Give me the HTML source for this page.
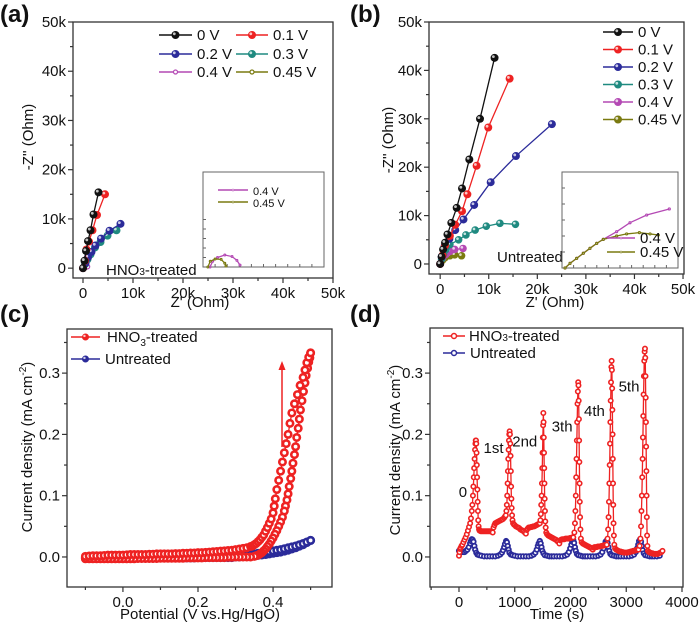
<!DOCTYPE html>
<html><head><meta charset="utf-8"><style>
html,body{margin:0;padding:0;background:#fff;}
svg{display:block;font-family:"Liberation Sans",sans-serif;}
</style></head><body>
<svg id="chart" width="700" height="623" viewBox="0 0 700 623" xmlns="http://www.w3.org/2000/svg"></svg>
<script>
// ---- Panel (a) data (kOhm) ----
const aSeriesNames = ['0 V','0.1 V','0.2 V','0.3 V','0.4 V','0.45 V'];
const aColors = ['#111111','#ee2222','#2b2b9a','#1f8a80','#b449b4','#7a7a10'];
const a0X = [0,0.3,0.6,1.0,1.5,2.1,3.1];
const a0Y = [0,1.5,3.5,5.5,7.7,10.9,15.4];
const a1X = [0,0.4,0.7,1.2,1.9,2.8,4.4];
const a1Y = [0,1.5,3.8,5.4,7.7,10.8,15.0];
const a2X = [0,0.5,1.0,1.7,2.5,3.6,5.3,7.5];
const a2Y = [0,1.0,2.2,3.3,4.6,6.0,7.6,9.0];
const a3X = [0,0.4,0.9,1.5,2.4,3.5,4.9,6.7];
const a3Y = [0,0.8,1.8,2.8,4.2,5.3,6.6,7.7];
const a4X = [0,0.3,0.6,0.9];
const a4Y = [0,0.4,0.5,0.3];
const a5X = [0,0.2,0.4,0.6];
const a5Y = [0,0.3,0.35,0.2];
const aInsetPX = [0.58,0.8,1.2,1.8,2.4,2.8,3.06];
const aInsetPY = [0,0.3,0.5,0.63,0.55,0.35,0.1];
const aInsetOX = [0.4,0.6,1.0,1.5,1.8,1.9];
const aInsetOY = [0,0.3,0.42,0.4,0.2,0.05];
// ---- Panel (b) data (kOhm) ----
const b0X = [0,0.3,0.6,1.0,1.5,2.3,3.4,4.5,6.0,8.2,11.2];
const b0Y = [0,1.5,3,4.4,6.1,8.5,11.6,15.6,21.6,30.0,42.6];
const b1X = [0,0.5,1.0,2.0,3.1,4.5,5.6,7.5,9.9,14.3];
const b1Y = [0,1.8,3.8,5.8,8.1,10.9,14.4,20.3,28.2,38.3];
const b2X = [0,0.3,0.9,1.9,3.1,4.8,7.0,10.4,15.6,23.0];
const b2Y = [0,1.5,3.6,5.2,7.0,9.2,12.2,16.9,22.3,28.9];
const b3X = [0,0.3,0.7,1.2,2.0,3.8,5.3,7.2,9.5,12.3,15.5];
const b3Y = [0,1,2,3,4,5.0,6.0,7.0,7.8,8.4,8.2];
const b4X = [0,0.5,1.2,2,3,4.7];
const b4Y = [0,1.2,2,2.6,3,3.2];
const b5X = [0,0.5,1,2,3,4.4];
const b5Y = [0,0.8,1.3,1.7,1.9,1.7];
const bInsetPX = [0.26,0.69,1.26,1.84,2.41,2.99,3.56,4.71,5.86,7.30,9.25];
const bInsetPY = [0,0.29,0.6,0.92,1.23,1.54,1.79,2.27,2.83,3.31,3.69];
const bInsetOX = [0.26,0.69,1.26,1.84,2.41,2.99,3.56,4.71,5.57,6.67,7.59,8.3];
const bInsetOY = [0,0.29,0.6,0.92,1.23,1.54,1.79,2.0,2.13,2.21,2.13,2.06];
// ---- Panel (c) data ----
const cRedFwdX = [-0.1,-0.09,-0.08,-0.07,-0.06,-0.05,-0.04,-0.03,-0.02,-0.01,0,0.01,0.02,0.03,0.04,0.05,0.06,0.07,0.08,0.09,0.1,0.11,0.12,0.13,0.14,0.15,0.16,0.17,0.18,0.19,0.2,0.21,0.22,0.23,0.24,0.25,0.26,0.27,0.28,0.29,0.3,0.31,0.32,0.33,0.34,
 0.345,0.35,0.355,0.36,0.365,0.37,0.375,0.38,0.385,0.39,0.395,0.40,0.403,0.406,0.41,0.415,0.42,0.425,0.43,0.435,0.44,0.445,0.45,0.457,0.465,0.472,0.48,0.485,0.49,0.495,0.50];
const cRedFwdY = [0.001,0.0015,0.002,0.002,0.002,0.0025,0.003,0.003,0.003,0.003,0.003,0.0035,0.004,0.004,0.004,0.004,0.004,0.0045,0.0045,0.005,0.005,0.005,0.005,0.005,0.0055,0.0055,0.006,0.006,0.0065,0.0065,0.007,0.007,0.0075,0.008,0.0085,0.009,0.0095,0.01,0.0105,0.011,0.012,0.013,0.014,0.015,0.017,
 0.018,0.02,0.022,0.025,0.028,0.032,0.036,0.042,0.048,0.055,0.062,0.072,0.083,0.095,0.11,0.125,0.14,0.155,0.17,0.185,0.2,0.218,0.235,0.25,0.265,0.28,0.293,0.305,0.317,0.326,0.333];
const cRedRevX = [0.50,0.498,0.495,0.492,0.488,0.485,0.481,0.477,0.473,0.47,0.467,0.463,0.46,0.457,0.453,0.45,0.447,0.443,0.44,0.437,0.433,0.43,0.425,0.42,0.415,0.41,0.405,0.40,0.395,0.39,0.385,0.38,0.375,0.37,0.365,0.36,0.355,0.35,
 0.34,0.33,0.32,0.31,0.3,0.29,0.28,0.27,0.26,0.25,0.24,0.23,0.22,0.21,0.2,0.19,0.18,0.17,0.16,0.15,0.14,0.13,0.12,0.11,0.1,0.09,0.08,0.07,0.06,0.05,0.04,0.03,0.02,0.01,0,-0.01,-0.02,-0.03,-0.04,-0.05,-0.06,-0.07,-0.08,-0.09,-0.1];
const cRedRevY = [0.333,0.325,0.318,0.308,0.296,0.284,0.27,0.255,0.24,0.225,0.21,0.195,0.18,0.167,0.153,0.14,0.128,0.115,0.103,0.093,0.083,0.075,0.065,0.057,0.05,0.043,0.037,0.031,0.026,0.021,0.017,0.013,0.01,0.007,0.005,0.003,0.002,0.001,
 0,0,0,0,0,-0.0005,-0.0005,-0.001,-0.001,-0.001,-0.001,-0.001,-0.001,-0.0015,-0.0015,-0.0015,-0.0015,-0.0015,-0.002,-0.002,-0.002,-0.002,-0.002,-0.002,-0.002,-0.0025,-0.0025,-0.0025,-0.0025,-0.0025,-0.0025,-0.003,-0.003,-0.003,-0.003,-0.003,-0.003,-0.003,-0.003,-0.003,-0.003,-0.003,-0.003,-0.003,-0.003];
const cBlueFwdX = [-0.1,-0.09,-0.08,-0.07,-0.06,-0.05,-0.04,-0.03,-0.02,-0.01,0,0.01,0.02,0.03,0.04,0.05,0.06,0.07,0.08,0.09,0.1,0.11,0.12,0.13,0.14,0.15,0.16,0.17,0.18,0.19,0.2,0.21,0.22,0.23,0.24,0.25,0.26,0.27,0.28,0.29,0.3,0.31,0.32,0.33,0.34,0.35,0.36,0.37,0.38,0.39,0.4,0.41,0.42,0.43,0.44,0.45,0.46,0.47,0.48,0.49,0.5];
const cBlueFwdY = [-0.001,-0.001,-0.0005,-0.0005,0,0,0,0,0,0,0,0,0,0.0005,0.0005,0.0005,0.0005,0.0005,0.0005,0.001,0.001,0.001,0.001,0.001,0.001,0.001,0.001,0.001,0.001,0.001,0.001,0.001,0.001,0.001,0.001,0.001,
 0.001,0.0012,0.0015,0.0018,0.002,0.0025,0.003,0.0035,0.004,0.005,0.006,0.007,0.008,0.009,0.01,0.011,0.012,0.0135,0.015,0.0165,0.018,0.02,0.022,0.0245,0.027];
const cBlueRevX = [0.5,0.49,0.48,0.47,0.46,0.45,0.44,0.43,0.42,0.41,0.4,0.39,0.38,0.37,0.36,0.35,0.34,0.33,0.32,0.31,0.3,0.29,0.28,0.27,0.26,0.25,0.24,0.23,0.22,0.21,0.2,0.19,0.18,0.17,0.16,0.15,0.14,0.13,0.12,0.11,0.1,0.09,0.08,0.07,0.06,0.05,0.04,0.03,0.02,0.01,0,-0.01,-0.02,-0.03,-0.04,-0.05,-0.06,-0.07,-0.08,-0.09,-0.1];
const cBlueRevY = [0.027,0.0235,0.02,0.0175,0.015,0.013,0.011,0.0095,0.008,0.007,0.006,0.005,0.004,0.0033,0.0026,0.002,0.0015,0.001,0.0005,0,0,
 -0.001,-0.001,-0.001,-0.001,-0.001,-0.001,-0.001,-0.001,-0.001,-0.001,-0.0015,-0.0015,-0.0015,-0.0015,-0.0015,-0.0015,-0.0015,-0.0015,-0.0015,-0.0015,-0.002,-0.002,-0.002,-0.002,-0.002,-0.002,-0.002,-0.002,-0.002,-0.002,-0.002,-0.002,-0.002,-0.002,-0.002,-0.002,-0.002,-0.002,-0.002,-0.002];
// ---- Panel (d) data ----
const dRedT = [0,10,20,30,45,60,80,100,120,140,160,180,200,215,230,240,250,258,265,272,280,288,295,300,305,310,315,320,325,330,335,340,345,352,360,370,390,410,430,450,470,490,510,530,550,570,590,605,620,635,650,670,690,710,730,750,770,790,810,825,840,
 850,858,865,872,878,884,890,896,902,908,914,920,925,930,935,940,945,952,960,970,985,1000,1020,1040,1060,1080,1100,1120,1140,1160,1180,1200,1215,1230,1250,1270,1290,1310,1330,1350,1370,1390,1410,1430,1450,
 1460,1468,1475,1482,1488,1494,1499,1504,1509,1513,1517,1521,1525,1529,1533,1537,1542,1548,1555,1565,1580,1600,1620,1640,1660,1680,1700,1720,1740,1760,1780,1800,1815,1830,1850,1870,1890,1910,1930,1950,1970,1990,2010,2030,2050,
 2070,2080,2088,2095,2102,2108,2114,2120,2126,2132,2138,2143,2147,2151,2155,2159,2163,2167,2172,2178,2186,2200,2220,2240,2260,2280,2300,2320,2340,2360,2380,2400,2415,2430,2450,2470,2490,2510,2530,2550,2570,2590,2610,2630,2650,
 2665,2675,2683,2690,2697,2703,2709,2715,2721,2727,2733,2738,2743,2747,2751,2755,2759,2763,2767,2772,2778,2786,2800,2820,2840,2860,2880,2900,2920,2940,2960,2980,3000,3020,3040,3060,3080,3100,3120,3140,3160,3180,3200,3220,
 3240,3255,3265,3273,3280,3287,3293,3299,3305,3311,3317,3323,3330,3336,3341,3345,3349,3353,3357,3361,3365,3369,3374,3380,3390,3410,3430,3450,3470,3490,3510,3530,3550,3570,3590,3610,3630,3650];
const dRedY = [0.002,0.008,0.013,0.015,0.018,0.02,0.024,0.028,0.032,0.037,0.043,0.049,0.055,0.063,0.075,0.085,0.1,0.115,0.13,0.145,0.16,0.175,0.185,0.19,0.19,0.185,0.17,0.15,0.13,0.11,0.09,0.075,0.06,0.05,0.045,0.043,0.042,0.042,0.042,0.042,0.042,0.042,0.042,0.042,0.042,0.042,0.041,0.04,0.048,0.052,0.055,0.056,0.057,0.058,0.059,0.06,0.061,0.062,0.064,0.066,0.068,
 0.075,0.085,0.1,0.12,0.14,0.16,0.175,0.19,0.2,0.205,0.2,0.185,0.165,0.14,0.115,0.095,0.08,0.068,0.06,0.055,0.053,0.052,0.05,0.049,0.048,0.047,0.045,0.044,0.043,0.042,0.04,0.038,0.044,0.046,0.048,0.048,0.049,0.049,0.05,0.05,0.051,0.052,0.053,0.054,0.055,
 0.06,0.07,0.085,0.1,0.12,0.145,0.17,0.195,0.215,0.235,0.22,0.195,0.17,0.145,0.12,0.095,0.075,0.058,0.048,0.04,0.037,0.035,0.034,0.033,0.032,0.031,0.03,0.029,0.028,0.026,0.025,0.022,0.027,0.028,0.029,0.029,0.029,0.03,0.03,0.03,0.03,0.031,0.031,0.032,0.032,
 0.04,0.055,0.075,0.1,0.13,0.16,0.19,0.22,0.25,0.27,0.285,0.28,0.255,0.225,0.19,0.155,0.12,0.09,0.065,0.045,0.03,0.024,0.022,0.021,0.02,0.019,0.018,0.017,0.016,0.015,0.014,0.012,0.015,0.016,0.016,0.016,0.017,0.017,0.017,0.018,0.018,0.019,0.019,0.02,0.02,
 0.03,0.045,0.065,0.09,0.12,0.15,0.185,0.22,0.255,0.285,0.31,0.32,0.305,0.275,0.24,0.2,0.16,0.12,0.085,0.055,0.035,0.02,0.014,0.012,0.011,0.01,0.009,0.009,0.008,0.008,0.007,0.007,0.007,0.007,0.008,0.008,0.009,0.009,0.01,0.01,0.011,0.011,0.012,0.012,
 0.018,0.03,0.05,0.075,0.1,0.13,0.16,0.195,0.23,0.265,0.295,0.32,0.335,0.34,0.325,0.295,0.26,0.22,0.18,0.14,0.1,0.065,0.035,0.018,0.01,0.008,0.007,0.006,0.006,0.005,0.005,0.005,0.005,0.005,0.006,0.007,0.008,0.01];
const dBlueT = [0,25,50,75,100,125,150,175,200,215,230,245,260,275,290,310,330,360,400,450,500,550,600,650,700,740,770,790,810,825,845,860,875,890,905,930,960,1000,1050,1100,1150,1200,1250,1300,1340,1370,1395,1415,1430,1450,1465,1480,1495,1515,1540,1580,1620,1660,1700,1750,1800,1850,1900,1940,1970,1995,2015,2030,2050,2065,2080,2095,2115,2140,2180,2220,2260,2300,2350,2400,2450,2500,2540,2570,2595,2615,2630,2650,2665,2680,2695,2715,2740,2780,2820,2860,2900,2950,3000,3050,3100,3140,3170,3195,3215,3230,3250,3265,3280,3295,3315,3340,3380,3420,3460,3500,3550,3600];
const dBlueY = [0.01,0.009,0.008,0.008,0.008,0.01,0.012,0.016,0.022,0.026,0.029,0.028,0.025,0.018,0.012,0.007,0.004,0.003,0.002,0.001,0.001,0.001,0.001,0.001,0.002,0.004,0.007,0.011,0.016,0.021,0.026,0.024,0.018,0.012,0.007,0.004,0.003,0.002,0.001,0.001,0.001,0.001,0.001,0.002,0.004,0.007,0.012,0.018,0.022,0.026,0.022,0.016,0.01,0.006,0.003,0.002,0.001,0.001,0.001,0.001,0.001,0.001,0.002,0.004,0.008,0.014,0.02,0.025,0.027,0.023,0.016,0.01,0.005,0.003,0.002,0.001,0.001,0.001,0.001,0.001,0.001,0.002,0.004,0.008,0.014,0.02,0.025,0.027,0.023,0.016,0.01,0.005,0.003,0.002,0.001,0.001,0.001,0.001,0.001,0.001,0.002,0.004,0.008,0.014,0.02,0.026,0.029,0.025,0.018,0.011,0.006,0.003,0.002,0.001,0.001,0.001,0.001,0.002];
const dCycleLabels = ['0','1st','2nd','3th','4th','5th'];
const dCycleT = [70,620,1180,1850,2430,3050];
const dCycleY = [0.098,0.17,0.18,0.205,0.23,0.27];
// ---- tick labels ----
const abTicks = [0,10,20,30,40,50];
const abTickLabels = ['0','10k','20k','30k','40k','50k'];
const cXTicks = [0.0,0.2,0.4];
const cXTickLabels = ['0.0','0.2','0.4'];
const cdYTicks = [0.0,0.1,0.2,0.3];
const cdYTickLabels = ['0.0','0.1','0.2','0.3'];
const dXTicks = [0,1000,2000,3000,4000];
const dXTickLabels = ['0','1000','2000','3000','4000'];

const NS = 'http://www.w3.org/2000/svg';
const svg = document.getElementById('chart');
function mk(tag, attrs, name, parent){
  const el = document.createElementNS(NS, tag);
  for (const k in attrs) el.setAttribute(k, attrs[k]);
  
  
  (parent || svg).appendChild(el);
  return el;
}
function txt(x, y, s, size, name, anchor, extra){
  const a = Object.assign({x:x, y:y, 'font-size':size, fill:'#111', 'text-anchor':anchor||'start'}, extra||{});
  const el = mk('text', a, name);
  el.textContent = s;
  return el;
}
function scale(d0,d1,p0,p1){ return v => p0 + (v-d0)/(d1-d0)*(p1-p0); }

function axes(c){
  const sx = scale(c.xmin,c.xmax,c.L,c.R), sy = scale(c.ymin,c.ymax,c.B,c.T);
  mk('rect',{x:c.L,y:c.T,width:c.R-c.L,height:c.B-c.T,fill:'none',stroke:'#333','stroke-width':1.3}, c.p+'-plot-frame');
  for (let v=c.xMinorStart; v<=c.xmax+1e-9; v+=c.xMinor){
    const major = Math.abs(v/c.xMajor - Math.round(v/c.xMajor))<1e-6;
    mk('line',{x1:sx(v),x2:sx(v),y1:c.B,y2:c.B+(major?5:3),stroke:'#333','stroke-width':1.2}, c.p+'-x-tick');
  }
  for (let v=c.yMinorStart; v<=c.ymax+1e-9; v+=c.yMinor){
    const major = Math.abs(v/c.yMajor - Math.round(v/c.yMajor))<1e-6;
    mk('line',{x1:c.L,x2:c.L-(major?5:3),y1:sy(v),y2:sy(v),stroke:'#333','stroke-width':1.2}, c.p+'-y-tick');
  }
  c.xt.forEach((v,i)=>txt(sx(v), c.B+20, c.xl[i], 15, c.p+'-x-tick-label','middle'));
  c.yt.forEach((v,i)=>txt(c.L-7, sy(v)+5, c.yl[i], 15, c.p+'-y-tick-label','end'));
  return [sx,sy];
}
function series(sx,sy,X,Y,color,name,r,style,sw){
  const pts = X.map((x,i)=>sx(x)+','+sy(Y[i])).join(' ');
  mk('polyline',{points:pts,fill:'none',stroke:color,'stroke-width':1.3}, name+'-line');
  X.forEach((x,i)=>{
    if (style==='ring'){
      mk('circle',{cx:sx(x),cy:sy(Y[i]),r:r,fill:'#fff',stroke:color,'stroke-width':sw||Math.max(1.2,r*0.55)}, name+'-marker');
    } else {
      mk('circle',{cx:sx(x),cy:sy(Y[i]),r:r,fill:color,stroke:'none'}, name+'-marker');
      mk('circle',{cx:sx(x)-r*0.3,cy:sy(Y[i])-r*0.3,r:r*0.35,fill:'#fff','fill-opacity':0.75}, name+'-marker-highlight');
    }
  });
}
function legendEntry(x1,x2,y,color,label,r,name,style,size){
  mk('line',{x1:x1,x2:x2,y1:y,y2:y,stroke:color,'stroke-width':1.5}, name+'-swatch-line');
  const cx=(x1+x2)/2;
  if (style==='ring') mk('circle',{cx:cx,cy:y,r:r,fill:'#fff',stroke:color,'stroke-width':r*0.6}, name+'-swatch-marker');
  else { mk('circle',{cx:cx,cy:y,r:r,fill:color}, name+'-swatch-marker');
    mk('circle',{cx:cx-r*0.3,cy:y-r*0.3,r:r*0.35,fill:'#fff','fill-opacity':0.75}, name+'-swatch-highlight'); }
  txt(x2+5, y+5, label, size||15, name+'-label');
}

// ===== Panel (a) =====
txt(0,22,'(a)',24,'panel-a-label','start',{'font-weight':'bold'});
let [ax, ay] = axes({p:'a',L:73,R:333,T:22,B:278,xmin:-2,xmax:50,ymin:-2,ymax:50,xMajor:10,xMinor:5,xMinorStart:0,yMajor:10,yMinor:5,yMinorStart:0,xt:abTicks,xl:abTickLabels,yt:abTicks,yl:abTickLabels});
txt(33,137,'-Z\'\' (Ohm)',15,'a-y-axis-title','middle',{transform:'rotate(-90 33 137)'});
txt(200,307,'Z\' (Ohm)',15,'a-x-axis-title','middle');
series(ax,ay,a5X,a5Y,aColors[5],'a-series-045v',2.2,'ring');
series(ax,ay,a4X,a4Y,aColors[4],'a-series-04v',2.2,'ring');
series(ax,ay,a3X,a3Y,aColors[3],'a-series-03v',4);
series(ax,ay,a2X,a2Y,aColors[2],'a-series-02v',4);
series(ax,ay,a1X,a1Y,aColors[1],'a-series-01v',4);
series(ax,ay,a0X,a0Y,aColors[0],'a-series-0v',4);
legendEntry(159,192,35,aColors[0],'0 V',4,'a-legend-0v');
legendEntry(236,268,35,aColors[1],'0.1 V',4,'a-legend-01v');
legendEntry(159,192,54,aColors[2],'0.2 V',4,'a-legend-02v');
legendEntry(236,268,54,aColors[3],'0.3 V',4,'a-legend-03v');
legendEntry(159,192,72,aColors[4],'0.4 V',2,'a-legend-04v','ring');
legendEntry(236,268,72,aColors[5],'0.45 V',2,'a-legend-045v','ring');
txt(106,275,'HNO',15,'a-sample-label').innerHTML='HNO<tspan font-size="10">3</tspan>-treated';
mk('rect',{x:203,y:172,width:121,height:95,fill:'#fff',stroke:'#666','stroke-width':1}, 'a-inset-frame');
const aix = scale(0,10,203,324), aiy = scale(0,5,267,172);
[0.5,1,1.5,2,2.5].forEach(v=>mk('line',{x1:203,x2:206,y1:aiy(v),y2:aiy(v),stroke:'#666'}, 'a-inset-y-tick'));
[1,2,3,4,5,6,7,8,9].forEach(v=>mk('line',{x1:aix(v),x2:aix(v),y1:267,y2:264,stroke:'#666'}, 'a-inset-x-tick'));
series(aix,aiy,aInsetPX,aInsetPY,aColors[4],'a-inset-04v',0.9,'ring');
series(aix,aiy,aInsetOX,aInsetOY,aColors[5],'a-inset-045v',0.9,'ring');
legendEntry(218,248,190,aColors[4],'0.4 V',1,'a-inset-legend-04v','ring',11);
legendEntry(218,248,202,aColors[5],'0.45 V',1,'a-inset-legend-045v','ring',11);

// ===== Panel (b) =====
txt(350,22,'(b)',24,'panel-b-label','start',{'font-weight':'bold'});
let [bx, by] = axes({p:'b',L:429,R:684,T:22,B:274,xmin:-2.3,xmax:50.2,ymin:-2.07,ymax:50,xMajor:10,xMinor:5,xMinorStart:0,yMajor:10,yMinor:5,yMinorStart:0,xt:abTicks,xl:abTickLabels,yt:abTicks,yl:abTickLabels});
txt(393,140,'-Z\'\' (Ohm)',15,'b-y-axis-title','middle',{transform:'rotate(-90 393 140)'});
txt(555,307,'Z\' (Ohm)',15,'b-x-axis-title','middle');
series(bx,by,b5X,b5Y,aColors[5],'b-series-045v',3.8);
series(bx,by,b4X,b4Y,aColors[4],'b-series-04v',3.8);
series(bx,by,b3X,b3Y,aColors[3],'b-series-03v',3.8);
series(bx,by,b2X,b2Y,aColors[2],'b-series-02v',4);
series(bx,by,b1X,b1Y,aColors[1],'b-series-01v',4);
series(bx,by,b0X,b0Y,aColors[0],'b-series-0v',4);
[0,1,2,3,4,5].forEach(i=>legendEntry(603,633,32+i*17.5,aColors[i],aSeriesNames[i],4,'b-legend-'+i));
txt(497,262,'Untreated',15,'b-sample-label');
mk('rect',{x:562,y:172,width:116,height:96,fill:'#fff',stroke:'#666','stroke-width':1}, 'b-inset-frame');
const bix = scale(0,10,562,678), biy = scale(0,6,268,172);
[1,2,3,4,5].forEach(v=>mk('line',{x1:562,x2:565,y1:biy(v),y2:biy(v),stroke:'#666'}, 'b-inset-y-tick'));
[1,2,3,4,5,6,7,8,9].forEach(v=>mk('line',{x1:bix(v),x2:bix(v),y1:268,y2:265,stroke:'#666'}, 'b-inset-x-tick'));
series(bix,biy,bInsetPX,bInsetPY,aColors[4],'b-inset-04v',1,'ring');
series(bix,biy,bInsetOX,bInsetOY,aColors[5],'b-inset-045v',1,'ring');
legendEntry(607,635,238,aColors[4],'0.4 V',1,'b-inset-legend-04v','ring',15);
legendEntry(607,635,252,aColors[5],'0.45 V',1,'b-inset-legend-045v','ring',15);

// ===== Panel (c) =====
txt(0,322,'(c)',24,'panel-c-label','start',{'font-weight':'bold'});
let [cx, cy] = axes({p:'c',L:67,R:332,T:329,B:587,xmin:-0.149,xmax:0.557,ymin:-0.049,ymax:0.372,xMajor:0.2,xMinor:0.1,xMinorStart:-0.1,yMajor:0.1,yMinor:0.05,yMinorStart:0,xt:cXTicks,xl:cXTickLabels,yt:cdYTicks,yl:cdYTickLabels});
txt(200,619,'Potential (V vs.Hg/HgO)',15,'c-x-axis-title','middle');
txt(32,447,'',15,'c-y-axis-title','middle',{transform:'rotate(-90 32 447)'}).innerHTML='Current density (mA cm<tspan font-size="10" dy="-6">-2</tspan><tspan dy="6">)</tspan>';
const cBlue='#2b2b9a', cRed='#ee2222';
series(cx,cy,cBlueRevX,cBlueRevY,cBlue,'c-untreated-reverse',3.2,'ring',2.6);
series(cx,cy,cBlueFwdX,cBlueFwdY,cBlue,'c-untreated-forward',3.2,'ring',2.6);
series(cx,cy,cRedRevX,cRedRevY,cRed,'c-hno3-reverse',3.2,'ring',2.6);
series(cx,cy,cRedFwdX,cRedFwdY,cRed,'c-hno3-forward',3.2,'ring',2.6);
mk('line',{x1:282,y1:447,x2:282,y2:368,stroke:cRed,'stroke-width':1.5}, 'c-scan-arrow-shaft');
mk('polygon',{points:'282,361 278.5,370 285.5,370',fill:cRed}, 'c-scan-arrow-head');
legendEntry(71,100,337,cRed,'',3.5,'c-legend-hno3');
txt(107,342,'',15,'c-legend-hno3-text').innerHTML='HNO<tspan font-size="10" dy="4">3</tspan><tspan dy="-4">-treated</tspan>';
legendEntry(71,100,359,cBlue,'Untreated',3.5,'c-legend-untreated');

// ===== Panel (d) =====
txt(350,322,'(d)',24,'panel-d-label','start',{'font-weight':'bold'});
let [dx, dy] = axes({p:'d',L:430,R:683,T:328,B:587,xmin:-520,xmax:4018,ymin:-0.049,ymax:0.3736,xMajor:1000,xMinor:500,xMinorStart:-500,yMajor:0.1,yMinor:0.05,yMinorStart:0,xt:dXTicks,xl:dXTickLabels,yt:cdYTicks,yl:cdYTickLabels});
txt(557,619,'Time  (s)',15,'d-x-axis-title','middle',{'xml:space':'preserve'});
txt(400,450,'',15,'d-y-axis-title','middle',{transform:'rotate(-90 400 450)'}).innerHTML='Current density (mA cm<tspan font-size="10" dy="-6">-2</tspan><tspan dy="6">)</tspan>';
series(dx,dy,dBlueT,dBlueY,cBlue,'d-untreated',2.2,'ring',1.8);
series(dx,dy,dRedT,dRedY,cRed,'d-hno3',2.2,'ring',1.6);
dCycleLabels.forEach((s,i)=>txt(dx(dCycleT[i]),dy(dCycleY[i]),s,15,'d-cycle-label','middle'));
legendEntry(443,465,336,cRed,'',2.5,'d-legend-hno3','ring');
txt(469,341,'',15,'d-legend-hno3-text').innerHTML='HNO<tspan font-size="10">3</tspan>-treated';
legendEntry(443,465,353,cBlue,'Untreated',2.5,'d-legend-untreated','ring');
</script>
</body></html>
